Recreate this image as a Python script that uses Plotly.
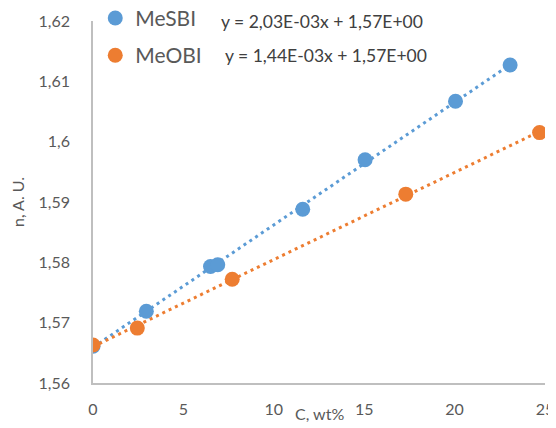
import numpy as np
import plotly.graph_objects as go

# Data
mesbi_c = [0.0, 2.95, 6.5, 6.9, 11.6, 15.05, 20.05, 23.07]
mesbi_n = [1.5661, 1.5719, 1.5793, 1.5796, 1.5888, 1.5970, 1.6067, 1.6127]
meobi_c = [0.0, 2.45, 7.7, 17.3, 24.7]
meobi_n = [1.5663, 1.5691, 1.5772, 1.5913, 1.6015]

eq_mesbi = "y = 2,03E-03x + 1,57E+00"
eq_meobi = "y = 1,44E-03x + 1,57E+00"

y_ticks = [1.56, 1.57, 1.58, 1.59, 1.60, 1.61, 1.62]
x_ticks = [0, 5, 10, 15, 20, 25]

blue = "#5B9BD5"
orange = "#ED7D31"
FONT = "Lato"

fig = go.Figure()

def trend(xs, ys):
    k, b = np.polyfit(xs, ys, 1)
    xx = np.array([min(xs), max(xs)])
    return xx, k * xx + b

for xs, ys, col in [(mesbi_c, mesbi_n, blue), (meobi_c, meobi_n, orange)]:
    tx, ty = trend(xs, ys)
    fig.add_trace(go.Scatter(x=tx, y=ty, mode="lines", showlegend=False,
                             line=dict(color=col, width=3, dash="3px,4px"),
                             hoverinfo="skip"))

fig.add_trace(go.Scatter(x=mesbi_c, y=mesbi_n, mode="markers", name="MeSBI",
                         legendgroup="a",
                         marker=dict(color=blue, size=15, line=dict(width=0))))
fig.add_trace(go.Scatter(x=meobi_c, y=meobi_n, mode="markers", name="MeOBI",
                         legendgroup="b",
                         marker=dict(color=orange, size=15, line=dict(width=0))))

fig.add_annotation(text=eq_mesbi, xref="paper", yref="paper", x=0.278, y=0.998,
                   xanchor="left", yanchor="middle", showarrow=False,
                   font=dict(family=FONT, size=17.5, color="#404040"))
fig.add_annotation(text=eq_meobi, xref="paper", yref="paper", x=0.288, y=0.905,
                   xanchor="left", yanchor="middle", showarrow=False,
                   font=dict(family=FONT, size=17.5, color="#404040"))
fig.add_annotation(text="C, wt%", xref="paper", yref="paper", x=0.5, y=-0.085,
                   xanchor="center", yanchor="middle", showarrow=False,
                   font=dict(family=FONT, size=16, color="#595959"))

# page body has an 8px margin, so the figure is sized/offset to compensate
fig.update_layout(
    width=548, height=420,
    margin=dict(l=85, r=11, t=13, b=45, autoexpand=False),
    paper_bgcolor="white", plot_bgcolor="white",
    separators=", ",
    font=dict(family=FONT, size=16, color="#595959"),
    legend=dict(x=0.005, y=1.064, xanchor="left", yanchor="top",
                bgcolor="rgba(0,0,0,0)", tracegroupgap=7,
                font=dict(family=FONT, size=21, color="#595959")),
    xaxis=dict(range=[0, 25], tickvals=x_ticks, showgrid=False, zeroline=False,
               showline=True, linecolor="#BFBFBF", linewidth=1.5,
               ticks="", ticklabelstandoff=11,
               tickfont=dict(family=FONT, size=16, color="#595959")),
    yaxis=dict(range=[1.56, 1.62], tickvals=y_ticks, showgrid=False, zeroline=False,
               showline=True, linecolor="#BFBFBF", linewidth=1.5,
               ticks="", ticklabelstandoff=18,
               tickfont=dict(family=FONT, size=16, color="#595959"),
               title=dict(text="n, A. U.", standoff=10,
                          font=dict(family=FONT, size=16, color="#595959"))),
)

fig.write_html("out.html")
